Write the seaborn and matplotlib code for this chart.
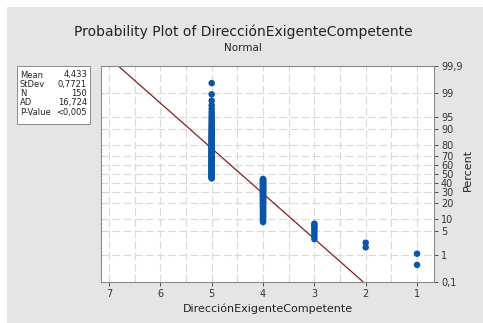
import seaborn as sns
import pandas as pd
import numpy as np
import matplotlib
matplotlib.use('Agg')
import matplotlib.pyplot as plt
from matplotlib.patches import Rectangle
from statistics import NormalDist

# Data: answer values and how many of the 150 answers had each value
values = [1, 2, 3, 4, 5]
counts = [2, 2, 8, 55, 83]

# Percent axis ticks
pct_ticks = [0.1, 1, 5, 10, 20, 30, 40, 50, 60, 70, 80, 90, 95, 99, 99.9]
pct_labels = ['0,1', '1', '5', '10', '20', '30', '40', '50', '60', '70', '80', '90', '95', '99', '99,9']
x_ticks = [1, 2, 3, 4, 5, 6, 7]

# Summary text for the box
stat_names = ['Mean', 'StDev', 'N', 'AD', 'P-Value']
ad_text = '16,724'
p_text = '<0,005'

nd = NormalDist()

# Build data and median ranks (Minitab style)
obs = np.repeat(values, counts)
n = len(obs)
ranks = np.arange(1, n + 1)
pct = (ranks - 0.3) / (n + 0.4)
df = pd.DataFrame({'x': obs, 'z': [nd.inv_cdf(p) for p in pct]})

mean = obs.mean()
sd = obs.std(ddof=1)

zlo = nd.inv_cdf(0.001)
zhi = nd.inv_cdf(0.999)
fit = pd.DataFrame({'z': [zlo, zhi]})
fit['x'] = mean + fit['z'] * sd

sns.set_style('white')
plt.rcParams['font.family'] = ['DejaVu Sans']

fig = plt.figure(figsize=(4.83, 3.23), dpi=100, facecolor='white')
# grey panel behind the chart (white strip left and top)
fig.add_artist(Rectangle((7 / 483, 0), 1, 1 - 7 / 323, transform=fig.transFigure,
                         facecolor='#e5e5e5', edgecolor='none', zorder=-10))

ax = fig.add_axes([101 / 483, 41 / 323, 333 / 483, 216 / 323])
ax.set_facecolor('white')

# grid
for gx in np.arange(1, 7.01, 0.5):
    ax.axvline(gx, color='#d9d9d9', lw=0.8, ls=(0, (7, 3)), zorder=0)
for p in pct_ticks[1:-1]:
    ax.axhline(nd.inv_cdf(p / 100), color='#d9d9d9', lw=0.8, ls=(0, (7, 3)), zorder=0)

sns.lineplot(data=fit, x='x', y='z', color='#8b1c1c', lw=0.9, ax=ax, zorder=2)
sns.scatterplot(data=df, x='x', y='z', color='#0b55a8', s=22, edgecolor='none', ax=ax, zorder=3)

ax.set_xlim(7.156, 0.67)
ax.set_ylim(zlo, zhi)
ax.set_xticks(x_ticks)
ax.set_xticklabels([str(v) for v in x_ticks])
ax.set_yticks([nd.inv_cdf(p / 100) for p in pct_ticks])
ax.set_yticklabels(pct_labels)
ax.yaxis.tick_right()
ax.tick_params(axis='both', labelsize=7, colors='#333333', length=3, width=0.6, direction='out', pad=2)
ax.tick_params(axis='y', right=True, left=False)
ax.tick_params(axis='x', bottom=True)
for s in ax.spines.values():
    s.set_color('#8a8a8a')
    s.set_linewidth(0.8)

ax.set_xlabel('DirecciónExigenteCompetente', fontsize=8, color='#222222', labelpad=3)
ax.set_ylabel('')
fig.text(468 / 483, 1 - 170 / 323, 'Percent', rotation=90, fontsize=8, color='#222222',
         ha='center', va='center')

fig.text(243 / 483, 1 - 32 / 323, 'Probability Plot of DirecciónExigenteCompetente',
         fontsize=10, color='#222222', ha='center', va='center')
fig.text(243 / 483, 1 - 48 / 323, 'Normal', fontsize=7.5, color='#222222', ha='center', va='center')

# stats box
bx0, by0, bw, bh = 17, 66, 73, 58
fig.add_artist(Rectangle((bx0 / 483, 1 - (by0 + bh) / 323), bw / 483, bh / 323,
                         transform=fig.transFigure, facecolor='white', edgecolor='#8a8a8a', lw=0.7))
stat_vals = [f'{mean:.3f}'.replace('.', ','), f'{sd:.4f}'.replace('.', ','), str(n), ad_text, p_text]
for i, (nm, v) in enumerate(zip(stat_names, stat_vals)):
    yy = 1 - (by0 + 9 + i * 9.3) / 323
    fig.text((bx0 + 3) / 483, yy, nm, fontsize=6, color='#222222', ha='left', va='center')
    fig.text((bx0 + bw - 3) / 483, yy, v, fontsize=6, color='#222222', ha='right', va='center')

fig.savefig('out.png', dpi=100, facecolor=fig.get_facecolor())
